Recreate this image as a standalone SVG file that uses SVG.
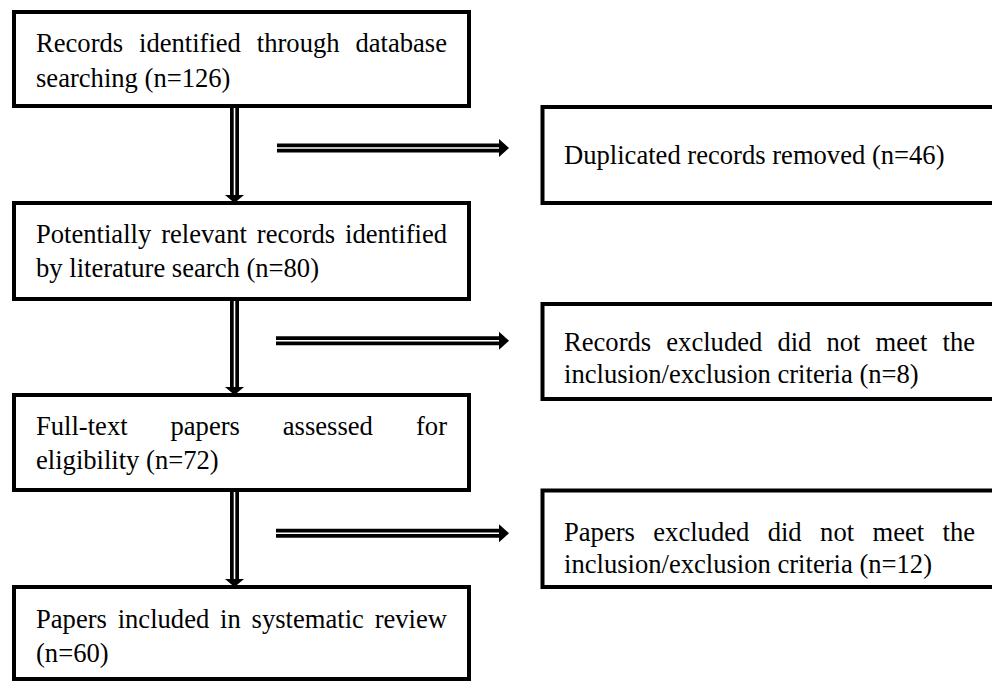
<svg xmlns="http://www.w3.org/2000/svg" width="992" height="682" viewBox="0 0 992 682">
<style>
.box{fill:#fff;stroke:#000;stroke-width:4}
.t{font-family:"Liberation Serif","Times New Roman",serif;font-size:26.6px;fill:#000}
.e{text-anchor:end}
.lo{stroke:#000;stroke-width:9;fill:none}
.li{stroke:#fff;stroke-width:1.6;fill:none}
.hd{fill:#000}
</style>
<rect x="0" y="0" width="992" height="682" fill="#fff"/>
<g id="connectors">
  <path class="lo" d="M234.5 108V196"/><path class="li" d="M234.5 108V196"/>
  <path class="hd" d="M225 195H244L234.5 203Z"/>
  <path class="lo" d="M234.5 301V388"/><path class="li" d="M234.5 301V388"/>
  <path class="hd" d="M225 387H244L234.5 395Z"/>
  <path class="lo" d="M234.5 492V580"/><path class="li" d="M234.5 492V580"/>
  <path class="hd" d="M225 579H244L234.5 587Z"/>
  <path class="lo" d="M277 148H500"/><path class="li" d="M277 148H500"/>
  <path class="hd" d="M499 139V157L509 148Z"/>
  <path class="lo" d="M276 340.7H500"/><path class="li" d="M276 340.7H500"/>
  <path class="hd" d="M499 331.7V349.7L509 340.7Z"/>
  <path class="lo" d="M276 533.3H500"/><path class="li" d="M276 533.3H500"/>
  <path class="hd" d="M499 524.3V542.3L509 533.3Z"/>
</g>
<g id="n1">
  <rect class="box" x="14" y="12" width="455" height="94"/>
  <text class="t" y="52"><tspan x="36">Records</tspan><tspan x="139">identified</tspan><tspan x="256.8">through</tspan><tspan x="447" class="e">database</tspan></text>
  <text class="t" x="36" y="86.5">searching (n=126)</text>
</g>
<g id="n2">
  <rect class="box" x="14" y="203" width="455" height="96"/>
  <text class="t" y="243"><tspan x="36">Potentially</tspan><tspan x="161.2">relevant</tspan><tspan x="256.8">records</tspan><tspan x="447" class="e">identified</tspan></text>
  <text class="t" x="36" y="277">by literature search (n=80)</text>
</g>
<g id="n3">
  <rect class="box" x="14" y="395" width="455" height="95"/>
  <text class="t" y="435"><tspan x="36">Full-text</tspan><tspan x="170.5">papers</tspan><tspan x="282.8">assessed</tspan><tspan x="447" class="e">for</tspan></text>
  <text class="t" x="36" y="469">eligibility (n=72)</text>
</g>
<g id="n4">
  <rect class="box" x="14" y="587" width="455" height="92"/>
  <text class="t" y="628"><tspan x="36">Papers</tspan><tspan x="117.7">included</tspan><tspan x="220.1">in</tspan><tspan x="251.6">systematic</tspan><tspan x="447" class="e">review</tspan></text>
  <text class="t" x="36" y="662">(n=60)</text>
</g>
<g id="r1">
  <rect class="box" x="542.5" y="107" width="470" height="96"/>
  <text class="t" x="564" y="164">Duplicated records removed (n=46)</text>
</g>
<g id="r2">
  <rect class="box" x="542.5" y="304" width="470" height="95"/>
  <text class="t" y="351"><tspan x="564">Records</tspan><tspan x="666.3">excluded</tspan><tspan x="777.4">did</tspan><tspan x="826.5">not</tspan><tspan x="875.6">meet</tspan><tspan x="975" class="e">the</tspan></text>
  <text class="t" x="564" y="383">inclusion/exclusion criteria (n=8)</text>
</g>
<g id="r3">
  <rect class="box" x="542.5" y="490.5" width="470" height="96.5"/>
  <text class="t" y="541"><tspan x="564">Papers</tspan><tspan x="653.3">excluded</tspan><tspan x="767.7">did</tspan><tspan x="820.1">not</tspan><tspan x="872.5">meet</tspan><tspan x="975" class="e">the</tspan></text>
  <text class="t" x="564" y="573">inclusion/exclusion criteria (n=12)</text>
</g>
</svg>
